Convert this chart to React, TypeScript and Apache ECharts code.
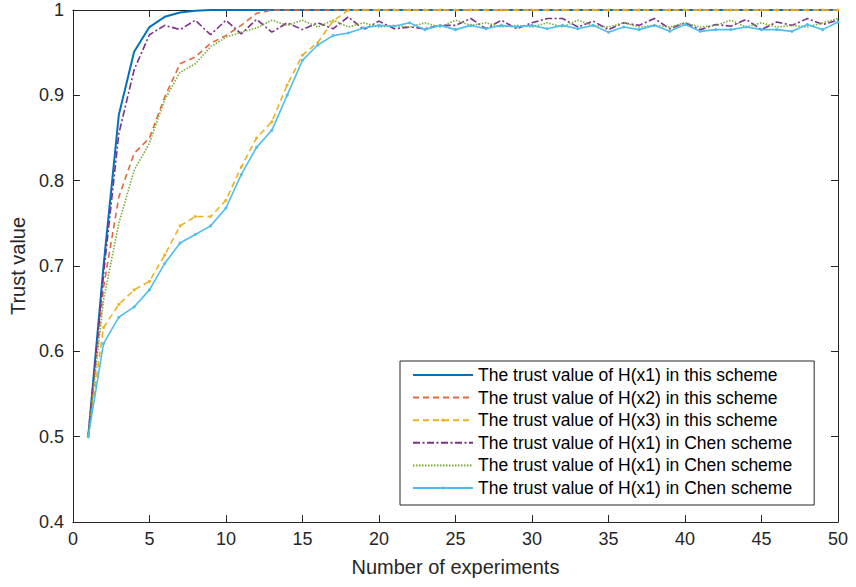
import React, { useEffect, useRef } from "react";
import * as echarts from "echarts";

const experiments = [
  1, 2, 3, 4, 5, 6, 7, 8, 9, 10, 11, 12, 13, 14, 15, 16, 17, 18, 19, 20, 21, 22, 23, 24, 25,
  26, 27, 28, 29, 30, 31, 32, 33, 34, 35, 36, 37, 38, 39, 40, 41, 42, 43, 44, 45, 46, 47, 48, 49, 50,
];

const thisX1 = [
  0.5, 0.7, 0.877, 0.951, 0.98, 0.992, 0.997, 0.999, 1, 1, 1, 1, 1, 1, 1, 1, 1, 1, 1, 1, 1, 1, 1, 1, 1,
  1, 1, 1, 1, 1, 1, 1, 1, 1, 1, 1, 1, 1, 1, 1, 1, 1, 1, 1, 1, 1, 1, 1, 1, 1,
];
const thisX2 = [
  0.5, 0.675, 0.781, 0.832, 0.85, 0.898, 0.937, 0.945, 0.961, 0.97, 0.982, 0.996, 1, 1, 1, 1, 1, 1, 1, 1, 1, 1, 1, 1, 1,
  1, 1, 1, 1, 1, 1, 1, 1, 1, 1, 1, 1, 1, 1, 1, 1, 1, 1, 1, 1, 1, 1, 1, 1, 1,
];
const thisX3 = [
  0.5, 0.628, 0.655, 0.672, 0.682, 0.713, 0.747, 0.758, 0.758, 0.777, 0.816, 0.85, 0.869, 0.912, 0.947, 0.962, 0.987, 1, 1, 1, 1, 1, 1, 1, 1,
  1, 1, 1, 1, 1, 1, 1, 1, 1, 1, 1, 1, 1, 1, 1, 1, 1, 1, 1, 1, 1, 1, 1, 1, 1,
];
const chenA = [
  0.5, 0.69, 0.855, 0.93, 0.971, 0.982, 0.977, 0.988, 0.971, 0.988, 0.972, 0.989, 0.974, 0.985, 0.977, 0.985, 0.978, 0.992, 0.977, 0.987, 0.978, 0.98, 0.978, 0.982, 0.982,
  0.99, 0.978, 0.988, 0.978, 0.985, 0.99, 0.99, 0.98, 0.987, 0.977, 0.985, 0.982, 0.99, 0.978, 0.985, 0.977, 0.983, 0.981, 0.989, 0.977, 0.986, 0.982, 0.99, 0.983, 0.988,
];
const chenB = [
  0.5, 0.66, 0.75, 0.812, 0.844, 0.895, 0.927, 0.937, 0.957, 0.968, 0.974, 0.979, 0.988, 0.982, 0.988, 0.98, 0.988, 0.98, 0.985, 0.98, 0.982, 0.98, 0.985, 0.98, 0.988,
  0.982, 0.985, 0.98, 0.982, 0.98, 0.985, 0.98, 0.988, 0.982, 0.98, 0.985, 0.98, 0.982, 0.98, 0.985, 0.98, 0.982, 0.988, 0.98, 0.985, 0.98, 0.982, 0.98, 0.985, 0.99,
];
const chenC = [
  0.5, 0.609, 0.64, 0.652, 0.672, 0.703, 0.727, 0.737, 0.747, 0.768, 0.807, 0.839, 0.859, 0.9, 0.941, 0.959, 0.97, 0.973, 0.979, 0.982, 0.981, 0.985, 0.977, 0.982, 0.977,
  0.982, 0.978, 0.982, 0.98, 0.982, 0.978, 0.982, 0.978, 0.982, 0.974, 0.98, 0.977, 0.982, 0.975, 0.983, 0.975, 0.977, 0.977, 0.98, 0.977, 0.977, 0.975, 0.983, 0.977, 0.986,
];

const seriesKeys = ["s1", "s2", "s3", "s4", "s5", "s6"];
const legendLabels = [
  "The trust value of H(x1) in this scheme",
  "The trust value of H(x2) in this scheme",
  "The trust value of H(x3) in this scheme",
  "The trust value of H(x1) in Chen scheme",
  "The trust value of H(x1) in Chen scheme",
  "The trust value of H(x1) in Chen scheme",
];
const seriesValues = [thisX1, thisX2, thisX3, chenA, chenB, chenC];
const seriesColors = ["#0072BD", "#E3683A", "#EDB120", "#7E2F8E", "#77AC30", "#4DBEEE"];
const seriesWidths = [2, 1.6, 1.6, 1.6, 1.6, 1.6];
const seriesDash: any[] = ["solid", [6, 4], [6, 4], [7, 2.5, 2, 2.5], [1.5, 1.5], "solid"];
const seriesMarker = [false, false, true, false, false, true];

const yTicksMin = 0.4;
const yTicksMax = 1;
const xTicksMin = 0;
const xTicksMax = 50;

const FONT = "'Liberation Sans', Arial, Helvetica, sans-serif";
const AXIS = "#262626";

export default function App() {
  const ref = useRef<HTMLDivElement>(null);
  useEffect(() => {
    if (!ref.current) return;
    const chart = echarts.init(ref.current, undefined, { renderer: "svg" });
    const axisLine = { show: true, onZero: false, lineStyle: { color: AXIS, width: 1 } };
    const axisTick = { show: true, inside: true, length: 7, lineStyle: { color: AXIS, width: 1 } };
    const labelStyle = { color: AXIS, fontSize: 18, fontFamily: FONT };
    const nameStyle = { color: AXIS, fontSize: 20, fontFamily: FONT };
    chart.setOption({
      animation: false,
      backgroundColor: "#fff",
      grid: { left: 71, right: 18, top: 10, bottom: 65, containLabel: false },
      xAxis: [
        {
          type: "value", min: xTicksMin, max: xTicksMax, interval: 5, position: "bottom",
          axisLine, axisTick, splitLine: { show: false },
          axisLabel: { ...labelStyle, margin: 8 },
          name: "Number of experiments", nameLocation: "middle", nameGap: 35, nameTextStyle: nameStyle,
        },
        {
          type: "value", min: xTicksMin, max: xTicksMax, interval: 5, position: "top",
          axisLine, axisTick, splitLine: { show: false }, axisLabel: { show: false },
        },
      ],
      yAxis: [
        {
          type: "value", min: yTicksMin, max: yTicksMax, interval: 0.1, position: "left",
          axisLine, axisTick, splitLine: { show: false },
          axisLabel: { ...labelStyle, margin: 9 },
          name: "Trust value", nameLocation: "middle", nameGap: 43, nameRotate: 90, nameTextStyle: nameStyle,
        },
        {
          type: "value", min: yTicksMin, max: yTicksMax, interval: 0.1, position: "right",
          axisLine, axisTick, splitLine: { show: false }, axisLabel: { show: false },
        },
      ],
      legend: {
        orient: "vertical",
        left: 400,
        top: 361,
        padding: [5, 22, 8, 12],
        itemWidth: 60,
        itemHeight: 4,
        itemGap: 4.6,
        borderColor: AXIS,
        borderWidth: 1,
        backgroundColor: "#fff",
        data: seriesKeys.map((key, i) => ({
          name: key,
          itemStyle: { opacity: seriesMarker[i] ? 1 : 0 },
        })),
        formatter: (name: string) => legendLabels[seriesKeys.indexOf(name)],
        textStyle: { color: "#000", fontSize: 17.5, lineHeight: 18, fontFamily: FONT },
      },
      series: seriesKeys.map((key, i) => ({
        name: key,
        type: "line",
        xAxisIndex: 0,
        yAxisIndex: 0,
        clip: false,
        data: experiments.map((x, j) => [x, seriesValues[i][j]]),
        symbol: seriesMarker[i] ? "circle" : "none",
        symbolSize: 3,
        showSymbol: seriesMarker[i],
        itemStyle: { color: seriesColors[i] },
        lineStyle: { color: seriesColors[i], width: seriesWidths[i], type: seriesDash[i] },
      })),
    });
    return () => chart.dispose();
  }, []);
  return (
    <div
      ref={ref}
      style={{ position: "fixed", left: 0, top: 0, width: 856, height: 587, background: "#fff" }}
    />
  );
}
